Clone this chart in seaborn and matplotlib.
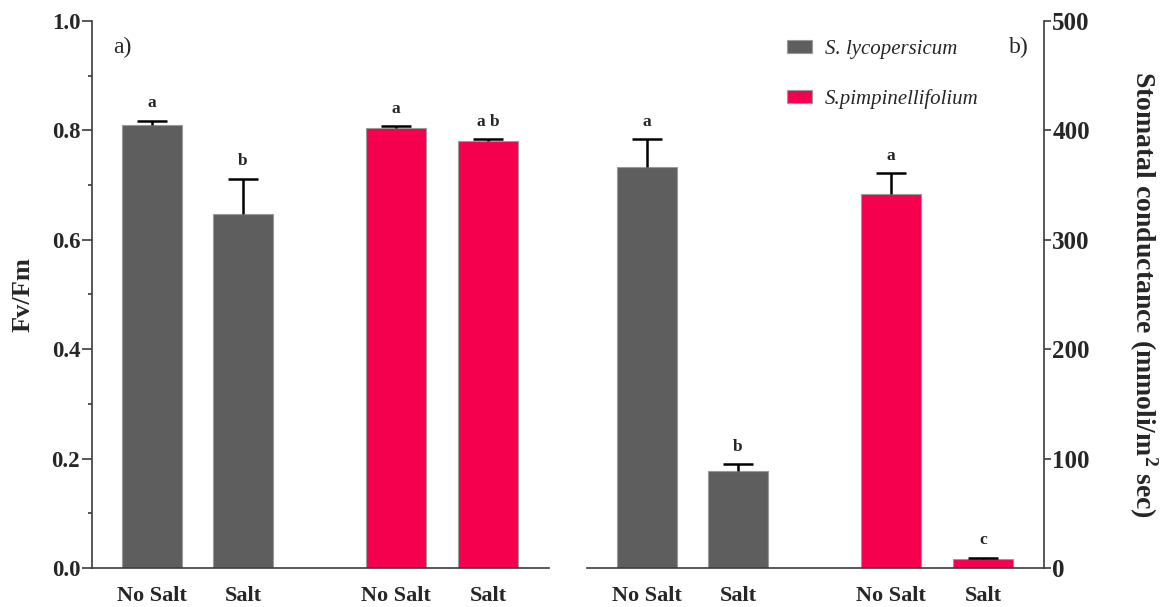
import numpy as np
import pandas as pd
import matplotlib
matplotlib.use("Agg")
import matplotlib.pyplot as plt
from matplotlib.patches import Patch
from matplotlib.ticker import MultipleLocator
import seaborn as sns

# ---- data -------------------------------------------------------------
treatments = ["No Salt", "Salt", "No Salt", "Salt"]
species = ["S. lycopersicum", "S. lycopersicum",
           "S.pimpinellifolium", "S.pimpinellifolium"]
positions = [0.0, 1.0, 2.68, 3.69]

fvfm = [0.810, 0.647, 0.804, 0.781]
fvfm_err = [0.008, 0.065, 0.004, 0.003]
fvfm_letters = ["a", "b", "a", "a b"]

conductance = [367.0, 89.0, 342.0, 8.5]
conductance_err = [25.0, 6.0, 19.0, 1.0]
conductance_letters = ["a", "b", "a", "c"]

species_order = ["S. lycopersicum", "S.pimpinellifolium"]
palette = {"S. lycopersicum": "#5e5e5e", "S.pimpinellifolium": "#f5004f"}

# ---- style ------------------------------------------------------------
sns.set_style("ticks")
plt.rcParams["font.family"] = ["Liberation Serif", "DejaVu Serif"]
plt.rcParams["mathtext.fontset"] = "custom"
plt.rcParams["mathtext.rm"] = "Liberation Serif"
plt.rcParams["mathtext.bf"] = "Liberation Serif:bold"
plt.rcParams["mathtext.it"] = "Liberation Serif:italic"

spine_color = "#3c3c3c"
bar_edge = "#9a9a9a"

fig = plt.figure(figsize=(11.64, 6.07), dpi=100)
ax1 = fig.add_axes([92 / 1164, 39 / 607, 457 / 1164, 547 / 607])
ax2 = fig.add_axes([587 / 1164, 39 / 607, 457 / 1164, 547 / 607])


def draw_panel(ax, values, errors, letters):
    df = pd.DataFrame({"pos": positions, "value": values, "species": species})
    sns.barplot(data=df, x="pos", y="value", hue="species",
                hue_order=species_order, palette=palette, saturation=1,
                native_scale=True, dodge=False, width=0.66,
                errorbar=None, edgecolor=bar_edge, linewidth=0.8,
                legend=False, ax=ax)
    vals = np.asarray(values)
    tops = vals + np.asarray(errors)
    pos = np.asarray(positions)
    # upper error bars only
    ax.vlines(pos, vals, tops, color="black", linewidth=1.8, zorder=4)
    ax.hlines(tops, pos - 0.165, pos + 0.165, color="black",
              linewidth=1.8, zorder=4)
    for p, t, lab in zip(pos, tops, letters):
        ax.annotate(lab, xy=(p, t), xytext=(0, 9.5),
                    textcoords="offset points", ha="center",
                    va="baseline", fontsize=12.5, fontweight="bold")
    ax.set_xlim(-0.66, 4.36)
    ax.set_xticks(positions)
    ax.set_xticklabels(treatments, fontsize=16, fontweight="bold")
    ax.tick_params(axis="x", length=0, pad=13)
    ax.set_xlabel("")
    for s in ax.spines.values():
        s.set_color(spine_color)
        s.set_linewidth(1.2)


# ---- panel a: Fv/Fm ---------------------------------------------------
draw_panel(ax1, fvfm, fvfm_err, fvfm_letters)
ax1.set_ylim(0, 1.0)
ax1.set_yticks(np.arange(0, 1.01, 0.2))
ax1.yaxis.set_minor_locator(MultipleLocator(0.1))
ax1.set_yticklabels([f"{v:.1f}" for v in np.arange(0, 1.01, 0.2)],
                    fontsize=16.5, fontweight="bold")
ax1.tick_params(axis="y", which="major", length=7, width=1.2,
                color=spine_color, pad=1.5)
ax1.tick_params(axis="y", which="minor", length=3.2, width=1.2,
                color=spine_color)
ax1.spines["top"].set_visible(False)
ax1.spines["right"].set_visible(False)
ax1.set_ylabel("Fv/Fm", fontsize=19, fontweight="bold")
ax1.yaxis.label.set_verticalalignment("center")
ax1.yaxis.set_label_coords(-0.151, 0.5)
ax1.text(0.046, 0.952, "a)", transform=ax1.transAxes, fontsize=17,
         ha="left", va="center")

# ---- panel b: stomatal conductance -----------------------------------
draw_panel(ax2, conductance, conductance_err, conductance_letters)
ax2.set_ylim(0, 500)
ax2.set_yticks(np.arange(0, 501, 100))
ax2.set_yticklabels([str(v) for v in range(0, 501, 100)],
                    fontsize=18, fontweight="bold")
ax2.yaxis.tick_right()
ax2.yaxis.set_label_position("right")
ax2.tick_params(axis="y", which="major", length=5, width=1.2,
                color=spine_color, pad=1)
ax2.spines["top"].set_visible(False)
ax2.spines["left"].set_visible(False)
ax2.set_ylabel(r"Stomatal conductance (mmoli/m$^{\mathbf{2}}$ sec)",
               fontsize=20, fontweight="bold", rotation=270)
ax2.yaxis.label.set_verticalalignment("center")
ax2.yaxis.label.set_horizontalalignment("center")
ax2.yaxis.set_label_coords(1.217, 0.5)
ax2.text(0.967, 0.952, "b)", transform=ax2.transAxes, fontsize=17,
         ha="right", va="center")

# ---- legend -----------------------------------------------------------
handles = [Patch(facecolor=palette[s], edgecolor=bar_edge, linewidth=0.8)
           for s in species_order]
fig.legend(handles, species_order, loc="upper left",
           bbox_to_anchor=(787 / 1164, 1 - 40 / 607), frameon=False,
           prop={"family": "Liberation Serif", "style": "italic", "size": 15},
           handlelength=1.2, handleheight=0.53, handletextpad=0.62,
           labelspacing=1.44, borderpad=0, borderaxespad=0)

fig.savefig("out.png", dpi=100, facecolor="white")
